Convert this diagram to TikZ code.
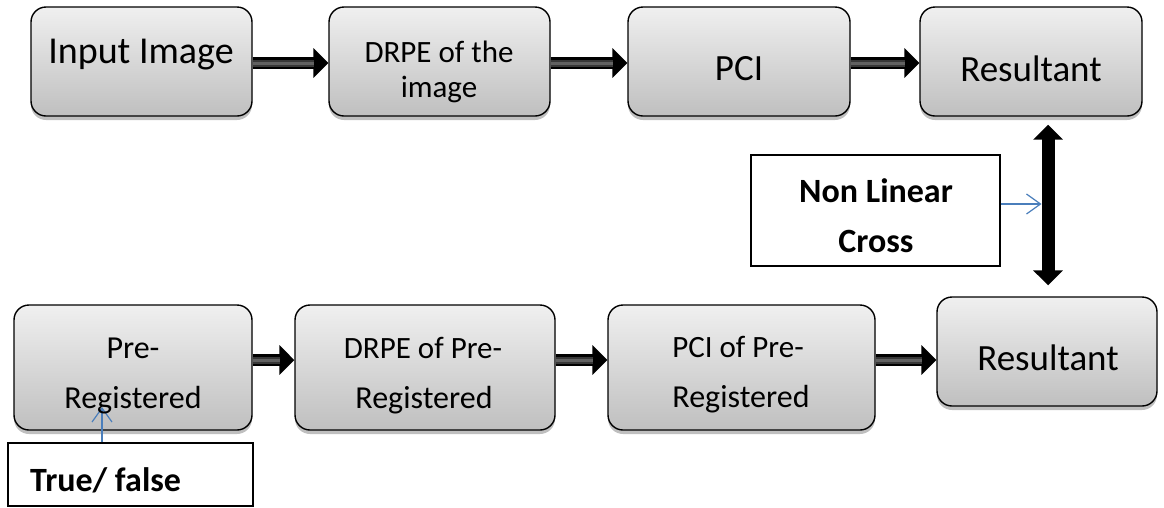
\documentclass[tikz,border=0pt]{standalone}
\usepackage{fontspec}
\setmainfont{Carlito}
\usetikzlibrary{arrows.meta,shadows,calc}
\definecolor{noteblue}{HTML}{4A7EBB}

\begin{document}
\begin{tikzpicture}[x=1pt,y=-1pt,
  box/.style={draw=black, line width=1.4pt, rounded corners=15pt,
    top color=gray!12, bottom color=gray!50, inner sep=0pt,
    drop shadow={shadow xshift=0pt, shadow yshift=-4pt, opacity=0.25, fill=black}},
  plainbox/.style={draw=black, line width=1.4pt, fill=white, inner sep=0pt},
  lbl/.style={inner sep=0pt, anchor=base},
  flow/.style={line width=12pt, draw=black, -{Triangle[length=15pt,width=29pt]},
    postaction={draw=black!78, line width=7pt, -, shorten >=14pt},
    postaction={draw=black!62, line width=3pt, -, shorten >=14pt}},
  dflow/.style={line width=13pt, draw=black,
    {Triangle[length=15pt,width=29pt]}-{Triangle[length=15pt,width=29pt]}},
  note/.style={draw=noteblue, line width=1.2pt, -{Straight Barb[length=14pt,width=20pt]}}
]
\useasboundingbox (0,0) rectangle (1164,507);

% guide coordinates for the connectors
\coordinate (rowa) at (0,63);
\coordinate (rowb) at (0,360);
\coordinate (vx) at (1048,0);
\coordinate (nlrow) at (0,204);
\coordinate (tftip) at (102,407);

% upper row
\node[box, minimum width=221pt, minimum height=109pt] (in)   at (141.5,61.5) {};
\node[box, minimum width=221pt, minimum height=109pt] (drpe) at (439.5,61.5) {};
\node[box, minimum width=222pt, minimum height=109pt] (pci)  at (739,61.5) {};
\node[box, minimum width=222pt, minimum height=109pt] (res1) at (1031,61.5) {};

% lower row
\node[box, minimum width=238pt, minimum height=125pt] (pre)   at (133,367.5) {};
\node[box, minimum width=260pt, minimum height=125pt] (drpe2) at (425,367.5) {};
\node[box, minimum width=267pt, minimum height=125pt] (pci2)  at (741.5,367.5) {};
\node[box, minimum width=220pt, minimum height=109pt] (res2)  at (1047,351.5) {};

% side notes
\node[plainbox, minimum width=249pt, minimum height=111pt] (nl) at (875.5,210.5) {};
\node[plainbox, minimum width=245pt, minimum height=63pt]  (tf) at (130.5,474.5) {};

% block arrows
\draw[flow] (in.east |- rowa)   -- (drpe.west |- rowa);
\draw[flow] (drpe.east |- rowa) -- (pci.west |- rowa);
\draw[flow] (pci.east |- rowa)  -- (res1.west |- rowa);
\draw[flow] (pre.east |- rowb)   -- (drpe2.west |- rowb);
\draw[flow] (drpe2.east |- rowb) -- (pci2.west |- rowb);
\draw[flow] (pci2.east |- rowb)  -- (res2.west |- rowb);
\draw[dflow, shorten <=8pt, shorten >=11pt] (vx |- res1.south) -- (vx |- res2.north);

% thin pointers
\draw[note, shorten >=6.5pt] (nl.east |- nlrow) -- (vx |- nlrow);
\draw[note] (tftip |- tf.north) -- (tftip);

% labels
\node[lbl, font=\fontsize{38}{42}\selectfont] (t-in) at (141,63) {Input Image};
\node[lbl, font=\fontsize{31}{35}\selectfont] (t-drpe-a) at (439,62) {DRPE of the};
\node[lbl, font=\fontsize{31}{35}\selectfont] (t-drpe-b) at (439,97) {image};
\node[lbl, font=\fontsize{37}{41}\selectfont] (t-pci) at (739,80) {PCI};
\node[lbl, font=\fontsize{37}{41}\selectfont] (t-res1) at (1031,81) {Resultant};

\node[lbl, font=\fontsize{32}{36}\selectfont] (t-pre-a) at (133,358) {Pre-};
\node[lbl, font=\fontsize{32}{36}\selectfont] (t-pre-b) at (133,408) {Registered};
\node[lbl, font=\fontsize{31}{35}\selectfont] (t-drpe2-a) at (423,358) {DRPE of Pre-};
\node[lbl, font=\fontsize{32}{36}\selectfont] (t-drpe2-b) at (424,408) {Registered};
\node[lbl, font=\fontsize{31}{35}\selectfont] (t-pci2-a) at (738,357) {PCI of Pre-};
\node[lbl, font=\fontsize{32}{36}\selectfont] (t-pci2-b) at (741,407) {Registered};
\node[lbl, font=\fontsize{37}{41}\selectfont] (t-res2) at (1048,370) {Resultant};

\node[lbl, font=\bfseries\fontsize{34}{38}\selectfont] (t-nl-a) at (876,202) {Non Linear};
\node[lbl, font=\bfseries\fontsize{34}{38}\selectfont] (t-nl-b) at (876,252) {Cross};
\node[lbl, anchor=base west, font=\bfseries\fontsize{34}{38}\selectfont] (t-tf) at (30,491) {True/ false};
\end{tikzpicture}
\end{document}
